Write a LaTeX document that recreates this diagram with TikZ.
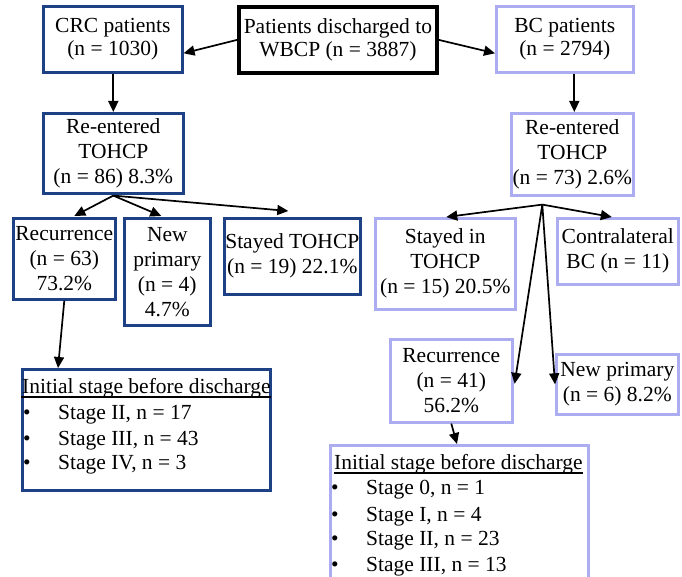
\documentclass[tikz,border=0pt]{standalone}
\usepackage{fontspec}
\setmainfont{Liberation Serif}
\usetikzlibrary{arrows.meta,calc}
\definecolor{dkblue}{RGB}{30,64,132}
\definecolor{ltblue}{RGB}{172,172,240}
\newcommand{\fsa}{\fontsize{21.5}{23}\selectfont}
\newcommand{\fsb}{\fontsize{21.5}{25}\selectfont}
\tikzset{
  box/.style={draw, rectangle, inner sep=0pt, align=center, font=\fsb, anchor=north west, line width=2.6pt},
  dk/.style={box, draw=dkblue},
  lt/.style={box, draw=ltblue},
  mainbox/.style={box, draw=black, line width=3.8pt, font=\fsa},
  arr/.style={-{Triangle[length=11pt,width=10pt]}, line width=1.7pt, black},
  txt/.style={inner sep=0pt, anchor=base west, font=\fsb},
  uline/.style={line width=2.5pt, black}
}
\begin{document}
\begin{tikzpicture}[x=1pt,y=-1pt]
\useasboundingbox (0,0) rectangle (682,577);
\clip (0,0) rectangle (682,577);
% top row
\node[dk, font=\fsa, minimum width=139pt, minimum height=66pt] (crc) at (42,5) {CRC patients\\(n = 1030)};
\node[mainbox, minimum width=198pt, minimum height=66pt] (main) at (237,5) {Patients discharged to\\WBCP (n = 3887)};
\node[lt, font=\fsa, minimum width=137pt, minimum height=66pt] (bc) at (495,5) {BC patients\\(n = 2794)};
% re-entered
\node[dk, minimum width=140pt, minimum height=80pt] (crcre) at (42,112) {Re-entered\\TOHCP\\(n = 86) 8.3\%};
\node[lt, minimum width=122pt, minimum height=82pt] (bcre) at (510,112) {Re-entered\\TOHCP\\(n = 73) 2.6\%};
% CRC third row
\node[dk, minimum width=102pt, minimum height=81pt] (crcrec) at (12,217) {Recurrence\\(n = 63)\\73.2\%};
\node[dk, minimum width=86pt, minimum height=107pt] (crcnew) at (123,217) {New\\primary\\(n = 4)\\4.7\%};
\node[dk, minimum width=136pt, minimum height=76pt] (crcstay) at (223,217) {Stayed TOHCP\\(n = 19) 22.1\%};
% BC third row
\node[lt, minimum width=140pt, minimum height=91pt] (bcstay) at (374,217) {Stayed in\\TOHCP\\(n = 15) 20.5\%};
\node[lt, minimum width=121pt, minimum height=66pt] (bccon) at (556,217) {Contralateral\\BC (n = 11)};
\node[lt, minimum width=122pt, minimum height=83pt] (bcrec) at (389,338) {Recurrence\\(n = 41)\\56.2\%};
\node[lt, minimum width=122pt, minimum height=60pt] (bcnew) at (555,353) {New primary\\(n = 6) 8.2\%};
% initial stage boxes
\node[dk, minimum width=248pt, minimum height=121pt] (crcinit) at (21,368) {};
\node[txt] (hl) at (22,393) {Initial stage before discharge};
\draw[uline] ($(hl.base west)+(-1,4)$) -- ($(hl.base east)+(0,4)$);
\node[txt] (l1) at (23,419) {\makebox[35pt][l]{•}Stage II, n = 17};
\node[txt] (l2) at (23,445) {\makebox[35pt][l]{•}Stage III, n = 43};
\node[txt] (l3) at (23,469) {\makebox[35pt][l]{•}Stage IV, n = 3};
\node[lt, minimum width=258pt, minimum height=170pt] (bcinit) at (329,444) {};
\node[txt] (hr) at (334,469) {Initial stage before discharge};
\draw[uline] ($(hr.base west)+(0,4)$) -- ($(hr.base east)+(0,4)$);
\node[txt] (r1) at (331,494) {\makebox[35pt][l]{•}Stage 0, n = 1};
\node[txt] (r2) at (331,521) {\makebox[35pt][l]{•}Stage I, n = 4};
\node[txt] (r3) at (331,545) {\makebox[35pt][l]{•}Stage II, n = 23};
\node[txt] (r4) at (331,571) {\makebox[35pt][l]{•}Stage III, n = 13};
% arrows
\draw[arr] (main.west) -- ($(crc.east)+(0,14)$);
\draw[arr] (main.east) -- ($(bc.west)+(0,14)$);
\draw[arr] (crcre.north |- crc.south) -- (crcre.north);
\coordinate (bcin) at ($(bcre.north)+(2,0)$);
\draw[arr] (bcin |- bc.south) -- (bcin);
\coordinate (cro) at ($(crcre.south)+(0,1)$);
\draw[arr] (cro) -- ($(crcrec.north)+(10,-1)$);
\draw[arr] (cro) -- ($(crcnew.north)+(-6,-1)$);
\draw[arr] (cro) -- ($(crcstay.north)+(-4,-6)$);
\draw[arr] (crcrec.south) -- ($(crcinit.north west)+(37,0)$);
\coordinate (bco) at ($(bcre.south)+(-30,8)$);
\draw[arr] (bco) -- ($(bcstay.north)+(1,0)$);
\draw[arr] (bco) -- ($(bccon.north)+(-6,0)$);
\draw[arr] (bco) -- ($(bcrec.east)+(1,3)$);
\draw[arr] (bco) -- ($(bcnew.west)+(0,0)$);
\draw[arr] (bcrec.south) -- ($(bcinit.north west)+(128,0)$);
\end{tikzpicture}
\end{document}
